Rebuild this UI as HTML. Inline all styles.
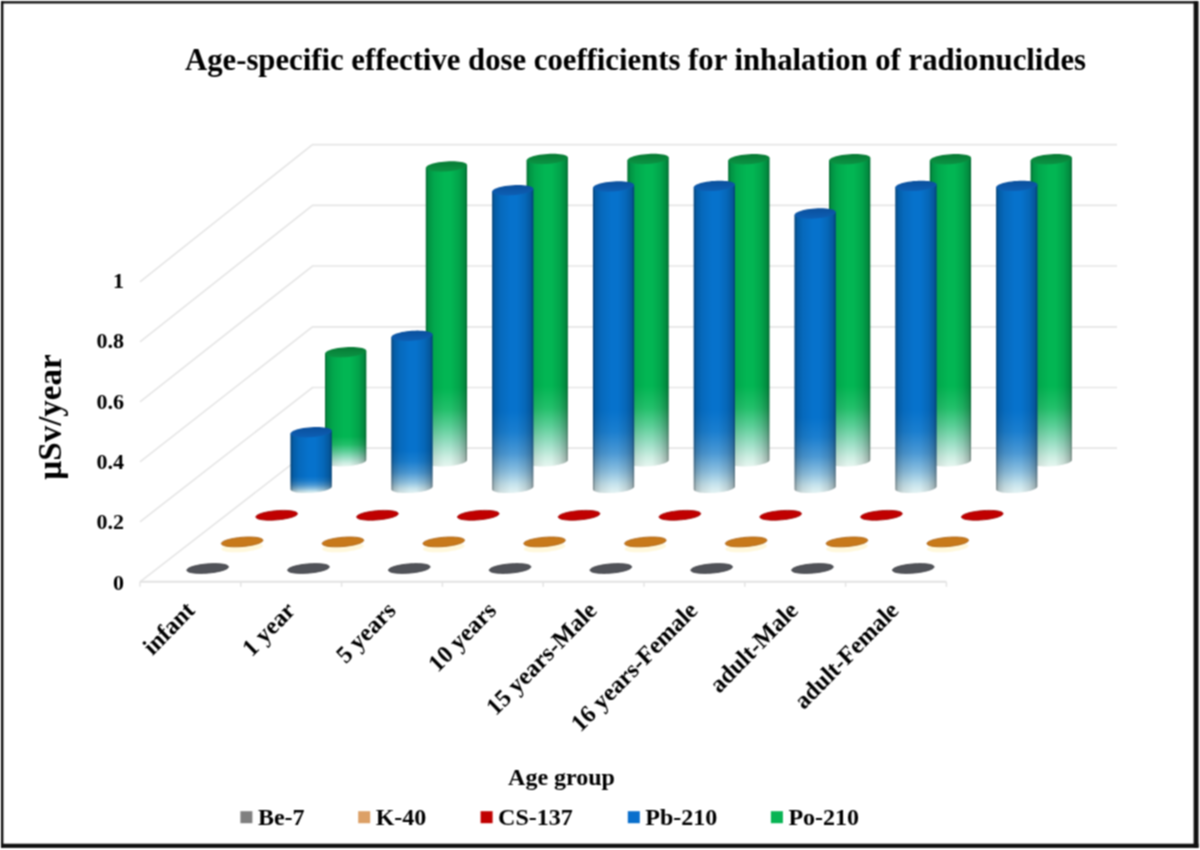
<!DOCTYPE html>
<html><head><meta charset="utf-8"><style>html,body{margin:0;padding:0;background:#fff;}svg{display:block;}</style></head>
<body>
<svg width="1200" height="850" viewBox="0 0 1200 850">
<defs>
<filter id="bl" x="0" y="0" width="1200" height="850" filterUnits="userSpaceOnUse" color-interpolation-filters="sRGB"><feConvolveMatrix order="3" kernelMatrix="1 2 1 2 4 2 1 2 1" divisor="16" edgeMode="duplicate" preserveAlpha="true"/></filter>
<linearGradient id="vb" x1="0" y1="0" x2="0" y2="1"><stop offset="0" stop-color="#0672cc"/><stop offset="0.73" stop-color="#0672cc"/><stop offset="0.8" stop-color="#1a7ecf"/><stop offset="0.87" stop-color="#4a98d4"/><stop offset="0.93" stop-color="#8cc0e0"/><stop offset="0.97" stop-color="#c4e2ec"/><stop offset="1" stop-color="#e4f3f3"/></linearGradient>
<linearGradient id="vg" x1="0" y1="0" x2="0" y2="1"><stop offset="0" stop-color="#02b653"/><stop offset="0.74" stop-color="#02b653"/><stop offset="0.81" stop-color="#22c06a"/><stop offset="0.87" stop-color="#5ccf98"/><stop offset="0.93" stop-color="#a0e0c8"/><stop offset="0.97" stop-color="#cdeee2"/><stop offset="1" stop-color="#e6f6f0"/></linearGradient>
<linearGradient id="cb" x1="0" y1="0" x2="0" y2="1"><stop offset="0" stop-color="#0a4f9c"/><stop offset="1" stop-color="#0d5fb4"/></linearGradient>
<linearGradient id="cg" x1="0" y1="0" x2="0" y2="1"><stop offset="0" stop-color="#077a34"/><stop offset="1" stop-color="#0b9444"/></linearGradient>
<linearGradient id="hs" x1="0" y1="0" x2="1" y2="0">
 <stop offset="0" stop-color="#000" stop-opacity="0.45"/>
 <stop offset="0.06" stop-color="#000" stop-opacity="0.2"/>
 <stop offset="0.2" stop-color="#000" stop-opacity="0.08"/>
 <stop offset="0.45" stop-color="#000" stop-opacity="0"/>
 <stop offset="0.6" stop-color="#000" stop-opacity="0"/>
 <stop offset="0.8" stop-color="#000" stop-opacity="0.1"/>
 <stop offset="0.94" stop-color="#000" stop-opacity="0.24"/>
 <stop offset="1" stop-color="#000" stop-opacity="0.45"/>
</linearGradient>
</defs>
<g filter="url(#bl)">
<rect width="1200" height="850" fill="#fff"/>
<rect x="1.0" y="1.2" width="2.4" height="846.6" fill="#111"/>
<rect x="1.2" y="1.2" width="1196.8" height="2.3" fill="#111"/>
<rect x="1193.6" y="1.2" width="4.9" height="846.6" fill="#111"/>
<rect x="1.2" y="843.7" width="1197.3" height="4.2" fill="#111"/>
<text x="185" y="69.5" font-family="Liberation Serif, serif" font-weight="bold" font-size="32.5" textLength="901" lengthAdjust="spacingAndGlyphs" fill="#000">Age-specific effective dose coefficients for inhalation of radionuclides</text>
<polyline points="140.0,581.8 312.5,448.2 1117,448.2" fill="none" stroke="#e6e6e6" stroke-width="1.7"/>
<polyline points="140.0,521.8 312.5,387.5 1117,387.5" fill="none" stroke="#e6e6e6" stroke-width="1.7"/>
<polyline points="140.0,461.8 312.5,326.8 1117,326.8" fill="none" stroke="#e6e6e6" stroke-width="1.7"/>
<polyline points="140.0,401.8 312.5,266.0 1117,266.0" fill="none" stroke="#e6e6e6" stroke-width="1.7"/>
<polyline points="140.0,341.8 312.5,205.3 1117,205.3" fill="none" stroke="#e6e6e6" stroke-width="1.7"/>
<polyline points="140.0,281.8 312.5,144.6 1117,144.6" fill="none" stroke="#e6e6e6" stroke-width="1.7"/>
<line x1="140.0" y1="581.8" x2="946.4" y2="581.8" stroke="#e2e2e2" stroke-width="2"/>
<line x1="140.0" y1="581.8" x2="140.0" y2="586.8" stroke="#e4e4e4" stroke-width="1.5"/>
<line x1="240.8" y1="581.8" x2="240.8" y2="586.8" stroke="#e4e4e4" stroke-width="1.5"/>
<line x1="341.6" y1="581.8" x2="341.6" y2="586.8" stroke="#e4e4e4" stroke-width="1.5"/>
<line x1="442.4" y1="581.8" x2="442.4" y2="586.8" stroke="#e4e4e4" stroke-width="1.5"/>
<line x1="543.2" y1="581.8" x2="543.2" y2="586.8" stroke="#e4e4e4" stroke-width="1.5"/>
<line x1="644.0" y1="581.8" x2="644.0" y2="586.8" stroke="#e4e4e4" stroke-width="1.5"/>
<line x1="744.8" y1="581.8" x2="744.8" y2="586.8" stroke="#e4e4e4" stroke-width="1.5"/>
<line x1="845.6" y1="581.8" x2="845.6" y2="586.8" stroke="#e4e4e4" stroke-width="1.5"/>
<line x1="946.4" y1="581.8" x2="946.4" y2="586.8" stroke="#e4e4e4" stroke-width="1.5"/>
<path d="M325.05,353.59 325.05,462.69 325.15,463.17 325.45,463.64 325.94,464.08 326.62,464.50 327.48,464.89 328.52,465.24 329.73,465.55 331.09,465.83 332.58,466.05 334.21,466.24 335.94,466.37 337.77,466.46 339.67,466.50 341.63,466.49 343.63,466.42 345.65,466.31 347.67,466.15 349.67,465.94 351.63,465.69 353.53,465.40 355.36,465.06 357.09,464.70 358.72,464.29 360.21,463.86 361.57,463.41 362.78,462.93 363.82,462.44 364.68,461.93 365.36,461.43 365.85,460.92 366.15,460.41 366.25,459.91 366.25,350.81Z" fill="url(#vg)"/>
<path d="M325.05,353.59 325.05,462.69 325.15,463.17 325.45,463.64 325.94,464.08 326.62,464.50 327.48,464.89 328.52,465.24 329.73,465.55 331.09,465.83 332.58,466.05 334.21,466.24 335.94,466.37 337.77,466.46 339.67,466.50 341.63,466.49 343.63,466.42 345.65,466.31 347.67,466.15 349.67,465.94 351.63,465.69 353.53,465.40 355.36,465.06 357.09,464.70 358.72,464.29 360.21,463.86 361.57,463.41 362.78,462.93 363.82,462.44 364.68,461.93 365.36,461.43 365.85,460.92 366.15,460.41 366.25,459.91 366.25,350.81Z" fill="url(#hs)"/>
<path d="M365.50,352.20 366.05,351.52 366.25,350.85 366.09,350.21 365.59,349.60 364.75,349.03 363.58,348.52 362.10,348.07 360.34,347.70 358.33,347.40 356.10,347.18 353.69,347.04 351.15,347.00 348.51,347.04 345.83,347.18 343.14,347.40 340.49,347.70 337.93,348.07 335.50,348.52 333.25,349.03 331.21,349.60 329.42,350.21 327.90,350.85 326.69,351.52 325.80,352.20 325.25,352.88 325.05,353.55 325.21,354.19 325.71,354.80 326.55,355.37 327.72,355.88 329.20,356.33 330.96,356.70 332.97,357.00 335.20,357.22 337.61,357.36 340.15,357.40 342.79,357.36 345.47,357.22 348.16,357.00 350.81,356.70 353.37,356.33 355.80,355.88 358.05,355.37 360.09,354.80 361.88,354.19 363.40,353.55 364.61,352.88 365.50,352.20Z" fill="url(#cg)"/>
<path d="M425.85,167.84 425.85,462.69 425.95,463.17 426.25,463.64 426.74,464.08 427.42,464.50 428.28,464.89 429.32,465.24 430.53,465.55 431.89,465.83 433.38,466.05 435.01,466.24 436.74,466.37 438.57,466.46 440.47,466.50 442.43,466.49 444.43,466.42 446.45,466.31 448.47,466.15 450.47,465.94 452.43,465.69 454.33,465.40 456.16,465.06 457.89,464.70 459.52,464.29 461.01,463.86 462.37,463.41 463.58,462.93 464.62,462.44 465.48,461.93 466.16,461.43 466.65,460.92 466.95,460.41 467.05,459.91 467.05,165.06Z" fill="url(#vg)"/>
<path d="M425.85,167.84 425.85,462.69 425.95,463.17 426.25,463.64 426.74,464.08 427.42,464.50 428.28,464.89 429.32,465.24 430.53,465.55 431.89,465.83 433.38,466.05 435.01,466.24 436.74,466.37 438.57,466.46 440.47,466.50 442.43,466.49 444.43,466.42 446.45,466.31 448.47,466.15 450.47,465.94 452.43,465.69 454.33,465.40 456.16,465.06 457.89,464.70 459.52,464.29 461.01,463.86 462.37,463.41 463.58,462.93 464.62,462.44 465.48,461.93 466.16,461.43 466.65,460.92 466.95,460.41 467.05,459.91 467.05,165.06Z" fill="url(#hs)"/>
<path d="M466.30,166.45 466.85,165.77 467.05,165.10 466.89,164.46 466.39,163.85 465.55,163.28 464.38,162.77 462.90,162.32 461.14,161.95 459.13,161.65 456.90,161.43 454.49,161.29 451.95,161.25 449.31,161.29 446.63,161.43 443.94,161.65 441.29,161.95 438.73,162.32 436.30,162.77 434.05,163.28 432.01,163.85 430.22,164.46 428.70,165.10 427.49,165.77 426.60,166.45 426.05,167.13 425.85,167.80 426.01,168.44 426.51,169.05 427.35,169.62 428.52,170.13 430.00,170.58 431.76,170.95 433.77,171.25 436.00,171.47 438.41,171.61 440.95,171.65 443.59,171.61 446.27,171.47 448.96,171.25 451.61,170.95 454.17,170.58 456.60,170.13 458.85,169.62 460.89,169.05 462.68,168.44 464.20,167.80 465.41,167.13 466.30,166.45Z" fill="url(#cg)"/>
<path d="M526.65,160.34 526.65,462.69 526.75,463.17 527.05,463.64 527.54,464.08 528.22,464.50 529.08,464.89 530.12,465.24 531.33,465.55 532.69,465.83 534.18,466.05 535.81,466.24 537.54,466.37 539.37,466.46 541.27,466.50 543.23,466.49 545.23,466.42 547.25,466.31 549.27,466.15 551.27,465.94 553.23,465.69 555.13,465.40 556.96,465.06 558.69,464.70 560.32,464.29 561.81,463.86 563.17,463.41 564.38,462.93 565.42,462.44 566.28,461.93 566.96,461.43 567.45,460.92 567.75,460.41 567.85,459.91 567.85,157.56Z" fill="url(#vg)"/>
<path d="M526.65,160.34 526.65,462.69 526.75,463.17 527.05,463.64 527.54,464.08 528.22,464.50 529.08,464.89 530.12,465.24 531.33,465.55 532.69,465.83 534.18,466.05 535.81,466.24 537.54,466.37 539.37,466.46 541.27,466.50 543.23,466.49 545.23,466.42 547.25,466.31 549.27,466.15 551.27,465.94 553.23,465.69 555.13,465.40 556.96,465.06 558.69,464.70 560.32,464.29 561.81,463.86 563.17,463.41 564.38,462.93 565.42,462.44 566.28,461.93 566.96,461.43 567.45,460.92 567.75,460.41 567.85,459.91 567.85,157.56Z" fill="url(#hs)"/>
<path d="M567.10,158.95 567.65,158.27 567.85,157.60 567.69,156.96 567.19,156.35 566.35,155.78 565.18,155.27 563.70,154.82 561.94,154.45 559.93,154.15 557.70,153.93 555.29,153.79 552.75,153.75 550.11,153.79 547.43,153.93 544.74,154.15 542.09,154.45 539.53,154.82 537.10,155.27 534.85,155.78 532.81,156.35 531.02,156.96 529.50,157.60 528.29,158.27 527.40,158.95 526.85,159.63 526.65,160.30 526.81,160.94 527.31,161.55 528.15,162.12 529.32,162.63 530.80,163.08 532.56,163.45 534.57,163.75 536.80,163.97 539.21,164.11 541.75,164.15 544.39,164.11 547.07,163.97 549.76,163.75 552.41,163.45 554.97,163.08 557.40,162.63 559.65,162.12 561.69,161.55 563.48,160.94 565.00,160.30 566.21,159.63 567.10,158.95Z" fill="url(#cg)"/>
<path d="M627.45,160.34 627.45,462.69 627.55,463.17 627.85,463.64 628.34,464.08 629.02,464.50 629.88,464.89 630.92,465.24 632.13,465.55 633.49,465.83 634.98,466.05 636.61,466.24 638.34,466.37 640.17,466.46 642.07,466.50 644.03,466.49 646.03,466.42 648.05,466.31 650.07,466.15 652.07,465.94 654.03,465.69 655.93,465.40 657.76,465.06 659.49,464.70 661.12,464.29 662.61,463.86 663.97,463.41 665.18,462.93 666.22,462.44 667.08,461.93 667.76,461.43 668.25,460.92 668.55,460.41 668.65,459.91 668.65,157.56Z" fill="url(#vg)"/>
<path d="M627.45,160.34 627.45,462.69 627.55,463.17 627.85,463.64 628.34,464.08 629.02,464.50 629.88,464.89 630.92,465.24 632.13,465.55 633.49,465.83 634.98,466.05 636.61,466.24 638.34,466.37 640.17,466.46 642.07,466.50 644.03,466.49 646.03,466.42 648.05,466.31 650.07,466.15 652.07,465.94 654.03,465.69 655.93,465.40 657.76,465.06 659.49,464.70 661.12,464.29 662.61,463.86 663.97,463.41 665.18,462.93 666.22,462.44 667.08,461.93 667.76,461.43 668.25,460.92 668.55,460.41 668.65,459.91 668.65,157.56Z" fill="url(#hs)"/>
<path d="M667.90,158.95 668.45,158.27 668.65,157.60 668.49,156.96 667.99,156.35 667.15,155.78 665.98,155.27 664.50,154.82 662.74,154.45 660.73,154.15 658.50,153.93 656.09,153.79 653.55,153.75 650.91,153.79 648.23,153.93 645.54,154.15 642.89,154.45 640.33,154.82 637.90,155.27 635.65,155.78 633.61,156.35 631.82,156.96 630.30,157.60 629.09,158.27 628.20,158.95 627.65,159.63 627.45,160.30 627.61,160.94 628.11,161.55 628.95,162.12 630.12,162.63 631.60,163.08 633.36,163.45 635.37,163.75 637.60,163.97 640.01,164.11 642.55,164.15 645.19,164.11 647.87,163.97 650.56,163.75 653.21,163.45 655.77,163.08 658.20,162.63 660.45,162.12 662.49,161.55 664.28,160.94 665.80,160.30 667.01,159.63 667.90,158.95Z" fill="url(#cg)"/>
<path d="M728.25,160.59 728.25,462.69 728.35,463.17 728.65,463.64 729.14,464.08 729.82,464.50 730.68,464.89 731.72,465.24 732.93,465.55 734.29,465.83 735.78,466.05 737.41,466.24 739.14,466.37 740.97,466.46 742.87,466.50 744.83,466.49 746.83,466.42 748.85,466.31 750.87,466.15 752.87,465.94 754.83,465.69 756.73,465.40 758.56,465.06 760.29,464.70 761.92,464.29 763.41,463.86 764.77,463.41 765.98,462.93 767.02,462.44 767.88,461.93 768.56,461.43 769.05,460.92 769.35,460.41 769.45,459.91 769.45,157.81Z" fill="url(#vg)"/>
<path d="M728.25,160.59 728.25,462.69 728.35,463.17 728.65,463.64 729.14,464.08 729.82,464.50 730.68,464.89 731.72,465.24 732.93,465.55 734.29,465.83 735.78,466.05 737.41,466.24 739.14,466.37 740.97,466.46 742.87,466.50 744.83,466.49 746.83,466.42 748.85,466.31 750.87,466.15 752.87,465.94 754.83,465.69 756.73,465.40 758.56,465.06 760.29,464.70 761.92,464.29 763.41,463.86 764.77,463.41 765.98,462.93 767.02,462.44 767.88,461.93 768.56,461.43 769.05,460.92 769.35,460.41 769.45,459.91 769.45,157.81Z" fill="url(#hs)"/>
<path d="M768.70,159.20 769.25,158.52 769.45,157.85 769.29,157.21 768.79,156.60 767.95,156.03 766.78,155.52 765.30,155.07 763.54,154.70 761.53,154.40 759.30,154.18 756.89,154.04 754.35,154.00 751.71,154.04 749.03,154.18 746.34,154.40 743.69,154.70 741.13,155.07 738.70,155.52 736.45,156.03 734.41,156.60 732.62,157.21 731.10,157.85 729.89,158.52 729.00,159.20 728.45,159.88 728.25,160.55 728.41,161.19 728.91,161.80 729.75,162.37 730.92,162.88 732.40,163.33 734.16,163.70 736.17,164.00 738.40,164.22 740.81,164.36 743.35,164.40 745.99,164.36 748.67,164.22 751.36,164.00 754.01,163.70 756.57,163.33 759.00,162.88 761.25,162.37 763.29,161.80 765.08,161.19 766.60,160.55 767.81,159.88 768.70,159.20Z" fill="url(#cg)"/>
<path d="M829.05,160.59 829.05,462.69 829.15,463.17 829.45,463.64 829.94,464.08 830.62,464.50 831.48,464.89 832.52,465.24 833.73,465.55 835.09,465.83 836.58,466.05 838.21,466.24 839.94,466.37 841.77,466.46 843.67,466.50 845.63,466.49 847.63,466.42 849.65,466.31 851.67,466.15 853.67,465.94 855.63,465.69 857.53,465.40 859.36,465.06 861.09,464.70 862.72,464.29 864.21,463.86 865.57,463.41 866.78,462.93 867.82,462.44 868.68,461.93 869.36,461.43 869.85,460.92 870.15,460.41 870.25,459.91 870.25,157.81Z" fill="url(#vg)"/>
<path d="M829.05,160.59 829.05,462.69 829.15,463.17 829.45,463.64 829.94,464.08 830.62,464.50 831.48,464.89 832.52,465.24 833.73,465.55 835.09,465.83 836.58,466.05 838.21,466.24 839.94,466.37 841.77,466.46 843.67,466.50 845.63,466.49 847.63,466.42 849.65,466.31 851.67,466.15 853.67,465.94 855.63,465.69 857.53,465.40 859.36,465.06 861.09,464.70 862.72,464.29 864.21,463.86 865.57,463.41 866.78,462.93 867.82,462.44 868.68,461.93 869.36,461.43 869.85,460.92 870.15,460.41 870.25,459.91 870.25,157.81Z" fill="url(#hs)"/>
<path d="M869.50,159.20 870.05,158.52 870.25,157.85 870.09,157.21 869.59,156.60 868.75,156.03 867.58,155.52 866.10,155.07 864.34,154.70 862.33,154.40 860.10,154.18 857.69,154.04 855.15,154.00 852.51,154.04 849.83,154.18 847.14,154.40 844.49,154.70 841.93,155.07 839.50,155.52 837.25,156.03 835.21,156.60 833.42,157.21 831.90,157.85 830.69,158.52 829.80,159.20 829.25,159.88 829.05,160.55 829.21,161.19 829.71,161.80 830.55,162.37 831.72,162.88 833.20,163.33 834.96,163.70 836.97,164.00 839.20,164.22 841.61,164.36 844.15,164.40 846.79,164.36 849.47,164.22 852.16,164.00 854.81,163.70 857.37,163.33 859.80,162.88 862.05,162.37 864.09,161.80 865.88,161.19 867.40,160.55 868.61,159.88 869.50,159.20Z" fill="url(#cg)"/>
<path d="M929.85,160.59 929.85,462.69 929.95,463.17 930.25,463.64 930.74,464.08 931.42,464.50 932.28,464.89 933.32,465.24 934.53,465.55 935.89,465.83 937.38,466.05 939.01,466.24 940.74,466.37 942.57,466.46 944.47,466.50 946.43,466.49 948.43,466.42 950.45,466.31 952.47,466.15 954.47,465.94 956.43,465.69 958.33,465.40 960.16,465.06 961.89,464.70 963.52,464.29 965.01,463.86 966.37,463.41 967.58,462.93 968.62,462.44 969.48,461.93 970.16,461.43 970.65,460.92 970.95,460.41 971.05,459.91 971.05,157.81Z" fill="url(#vg)"/>
<path d="M929.85,160.59 929.85,462.69 929.95,463.17 930.25,463.64 930.74,464.08 931.42,464.50 932.28,464.89 933.32,465.24 934.53,465.55 935.89,465.83 937.38,466.05 939.01,466.24 940.74,466.37 942.57,466.46 944.47,466.50 946.43,466.49 948.43,466.42 950.45,466.31 952.47,466.15 954.47,465.94 956.43,465.69 958.33,465.40 960.16,465.06 961.89,464.70 963.52,464.29 965.01,463.86 966.37,463.41 967.58,462.93 968.62,462.44 969.48,461.93 970.16,461.43 970.65,460.92 970.95,460.41 971.05,459.91 971.05,157.81Z" fill="url(#hs)"/>
<path d="M970.30,159.20 970.85,158.52 971.05,157.85 970.89,157.21 970.39,156.60 969.55,156.03 968.38,155.52 966.90,155.07 965.14,154.70 963.13,154.40 960.90,154.18 958.49,154.04 955.95,154.00 953.31,154.04 950.63,154.18 947.94,154.40 945.29,154.70 942.73,155.07 940.30,155.52 938.05,156.03 936.01,156.60 934.22,157.21 932.70,157.85 931.49,158.52 930.60,159.20 930.05,159.88 929.85,160.55 930.01,161.19 930.51,161.80 931.35,162.37 932.52,162.88 934.00,163.33 935.76,163.70 937.77,164.00 940.00,164.22 942.41,164.36 944.95,164.40 947.59,164.36 950.27,164.22 952.96,164.00 955.61,163.70 958.17,163.33 960.60,162.88 962.85,162.37 964.89,161.80 966.68,161.19 968.20,160.55 969.41,159.88 970.30,159.20Z" fill="url(#cg)"/>
<path d="M1030.65,160.59 1030.65,462.69 1030.75,463.17 1031.05,463.64 1031.54,464.08 1032.22,464.50 1033.08,464.89 1034.12,465.24 1035.33,465.55 1036.69,465.83 1038.18,466.05 1039.81,466.24 1041.54,466.37 1043.37,466.46 1045.27,466.50 1047.23,466.49 1049.23,466.42 1051.25,466.31 1053.27,466.15 1055.27,465.94 1057.23,465.69 1059.13,465.40 1060.96,465.06 1062.69,464.70 1064.32,464.29 1065.81,463.86 1067.17,463.41 1068.38,462.93 1069.42,462.44 1070.28,461.93 1070.96,461.43 1071.45,460.92 1071.75,460.41 1071.85,459.91 1071.85,157.81Z" fill="url(#vg)"/>
<path d="M1030.65,160.59 1030.65,462.69 1030.75,463.17 1031.05,463.64 1031.54,464.08 1032.22,464.50 1033.08,464.89 1034.12,465.24 1035.33,465.55 1036.69,465.83 1038.18,466.05 1039.81,466.24 1041.54,466.37 1043.37,466.46 1045.27,466.50 1047.23,466.49 1049.23,466.42 1051.25,466.31 1053.27,466.15 1055.27,465.94 1057.23,465.69 1059.13,465.40 1060.96,465.06 1062.69,464.70 1064.32,464.29 1065.81,463.86 1067.17,463.41 1068.38,462.93 1069.42,462.44 1070.28,461.93 1070.96,461.43 1071.45,460.92 1071.75,460.41 1071.85,459.91 1071.85,157.81Z" fill="url(#hs)"/>
<path d="M1071.10,159.20 1071.65,158.52 1071.85,157.85 1071.69,157.21 1071.19,156.60 1070.35,156.03 1069.18,155.52 1067.70,155.07 1065.94,154.70 1063.93,154.40 1061.70,154.18 1059.29,154.04 1056.75,154.00 1054.11,154.04 1051.43,154.18 1048.74,154.40 1046.09,154.70 1043.53,155.07 1041.10,155.52 1038.85,156.03 1036.81,156.60 1035.02,157.21 1033.50,157.85 1032.29,158.52 1031.40,159.20 1030.85,159.88 1030.65,160.55 1030.81,161.19 1031.31,161.80 1032.15,162.37 1033.32,162.88 1034.80,163.33 1036.56,163.70 1038.57,164.00 1040.80,164.22 1043.21,164.36 1045.75,164.40 1048.39,164.36 1051.07,164.22 1053.76,164.00 1056.41,163.70 1058.97,163.33 1061.40,162.88 1063.65,162.37 1065.69,161.80 1067.48,161.19 1069.00,160.55 1070.21,159.88 1071.10,159.20Z" fill="url(#cg)"/>
<path d="M290.55,433.59 290.55,489.29 290.65,489.77 290.95,490.24 291.44,490.68 292.12,491.10 292.98,491.49 294.02,491.84 295.23,492.15 296.59,492.43 298.08,492.65 299.71,492.84 301.44,492.97 303.27,493.06 305.17,493.10 307.13,493.09 309.13,493.02 311.15,492.91 313.17,492.75 315.17,492.54 317.13,492.29 319.03,492.00 320.86,491.66 322.59,491.30 324.22,490.89 325.71,490.46 327.07,490.01 328.28,489.53 329.32,489.04 330.18,488.53 330.86,488.03 331.35,487.52 331.65,487.01 331.75,486.51 331.75,430.81Z" fill="url(#vb)"/>
<path d="M290.55,433.59 290.55,489.29 290.65,489.77 290.95,490.24 291.44,490.68 292.12,491.10 292.98,491.49 294.02,491.84 295.23,492.15 296.59,492.43 298.08,492.65 299.71,492.84 301.44,492.97 303.27,493.06 305.17,493.10 307.13,493.09 309.13,493.02 311.15,492.91 313.17,492.75 315.17,492.54 317.13,492.29 319.03,492.00 320.86,491.66 322.59,491.30 324.22,490.89 325.71,490.46 327.07,490.01 328.28,489.53 329.32,489.04 330.18,488.53 330.86,488.03 331.35,487.52 331.65,487.01 331.75,486.51 331.75,430.81Z" fill="url(#hs)"/>
<path d="M331.00,432.20 331.55,431.52 331.75,430.85 331.59,430.21 331.09,429.60 330.25,429.03 329.08,428.52 327.60,428.07 325.84,427.70 323.83,427.40 321.60,427.18 319.19,427.04 316.65,427.00 314.01,427.04 311.33,427.18 308.64,427.40 305.99,427.70 303.43,428.07 301.00,428.52 298.75,429.03 296.71,429.60 294.92,430.21 293.40,430.85 292.19,431.52 291.30,432.20 290.75,432.88 290.55,433.55 290.71,434.19 291.21,434.80 292.05,435.37 293.22,435.88 294.70,436.33 296.46,436.70 298.47,437.00 300.70,437.22 303.11,437.36 305.65,437.40 308.29,437.36 310.97,437.22 313.66,437.00 316.31,436.70 318.87,436.33 321.30,435.88 323.55,435.37 325.59,434.80 327.38,434.19 328.90,433.55 330.11,432.88 331.00,432.20Z" fill="url(#cb)"/>
<path d="M391.35,337.19 391.35,489.29 391.45,489.77 391.75,490.24 392.24,490.68 392.92,491.10 393.78,491.49 394.82,491.84 396.03,492.15 397.39,492.43 398.88,492.65 400.51,492.84 402.24,492.97 404.07,493.06 405.97,493.10 407.93,493.09 409.93,493.02 411.95,492.91 413.97,492.75 415.97,492.54 417.93,492.29 419.83,492.00 421.66,491.66 423.39,491.30 425.02,490.89 426.51,490.46 427.87,490.01 429.08,489.53 430.12,489.04 430.98,488.53 431.66,488.03 432.15,487.52 432.45,487.01 432.55,486.51 432.55,334.41Z" fill="url(#vb)"/>
<path d="M391.35,337.19 391.35,489.29 391.45,489.77 391.75,490.24 392.24,490.68 392.92,491.10 393.78,491.49 394.82,491.84 396.03,492.15 397.39,492.43 398.88,492.65 400.51,492.84 402.24,492.97 404.07,493.06 405.97,493.10 407.93,493.09 409.93,493.02 411.95,492.91 413.97,492.75 415.97,492.54 417.93,492.29 419.83,492.00 421.66,491.66 423.39,491.30 425.02,490.89 426.51,490.46 427.87,490.01 429.08,489.53 430.12,489.04 430.98,488.53 431.66,488.03 432.15,487.52 432.45,487.01 432.55,486.51 432.55,334.41Z" fill="url(#hs)"/>
<path d="M431.80,335.80 432.35,335.12 432.55,334.45 432.39,333.81 431.89,333.20 431.05,332.63 429.88,332.12 428.40,331.67 426.64,331.30 424.63,331.00 422.40,330.78 419.99,330.64 417.45,330.60 414.81,330.64 412.13,330.78 409.44,331.00 406.79,331.30 404.23,331.67 401.80,332.12 399.55,332.63 397.51,333.20 395.72,333.81 394.20,334.45 392.99,335.12 392.10,335.80 391.55,336.48 391.35,337.15 391.51,337.79 392.01,338.40 392.85,338.97 394.02,339.48 395.50,339.93 397.26,340.30 399.27,340.60 401.50,340.82 403.91,340.96 406.45,341.00 409.09,340.96 411.77,340.82 414.46,340.60 417.11,340.30 419.67,339.93 422.10,339.48 424.35,338.97 426.39,338.40 428.18,337.79 429.70,337.15 430.91,336.48 431.80,335.80Z" fill="url(#cb)"/>
<path d="M492.15,191.59 492.15,489.29 492.25,489.77 492.55,490.24 493.04,490.68 493.72,491.10 494.58,491.49 495.62,491.84 496.83,492.15 498.19,492.43 499.68,492.65 501.31,492.84 503.04,492.97 504.87,493.06 506.77,493.10 508.73,493.09 510.73,493.02 512.75,492.91 514.77,492.75 516.77,492.54 518.73,492.29 520.63,492.00 522.46,491.66 524.19,491.30 525.82,490.89 527.31,490.46 528.67,490.01 529.88,489.53 530.92,489.04 531.78,488.53 532.46,488.03 532.95,487.52 533.25,487.01 533.35,486.51 533.35,188.81Z" fill="url(#vb)"/>
<path d="M492.15,191.59 492.15,489.29 492.25,489.77 492.55,490.24 493.04,490.68 493.72,491.10 494.58,491.49 495.62,491.84 496.83,492.15 498.19,492.43 499.68,492.65 501.31,492.84 503.04,492.97 504.87,493.06 506.77,493.10 508.73,493.09 510.73,493.02 512.75,492.91 514.77,492.75 516.77,492.54 518.73,492.29 520.63,492.00 522.46,491.66 524.19,491.30 525.82,490.89 527.31,490.46 528.67,490.01 529.88,489.53 530.92,489.04 531.78,488.53 532.46,488.03 532.95,487.52 533.25,487.01 533.35,486.51 533.35,188.81Z" fill="url(#hs)"/>
<path d="M532.60,190.20 533.15,189.52 533.35,188.85 533.19,188.21 532.69,187.60 531.85,187.03 530.68,186.52 529.20,186.07 527.44,185.70 525.43,185.40 523.20,185.18 520.79,185.04 518.25,185.00 515.61,185.04 512.93,185.18 510.24,185.40 507.59,185.70 505.03,186.07 502.60,186.52 500.35,187.03 498.31,187.60 496.52,188.21 495.00,188.85 493.79,189.52 492.90,190.20 492.35,190.88 492.15,191.55 492.31,192.19 492.81,192.80 493.65,193.37 494.82,193.88 496.30,194.33 498.06,194.70 500.07,195.00 502.30,195.22 504.71,195.36 507.25,195.40 509.89,195.36 512.57,195.22 515.26,195.00 517.91,194.70 520.47,194.33 522.90,193.88 525.15,193.37 527.19,192.80 528.98,192.19 530.50,191.55 531.71,190.88 532.60,190.20Z" fill="url(#cb)"/>
<path d="M592.95,187.84 592.95,489.29 593.05,489.77 593.35,490.24 593.84,490.68 594.52,491.10 595.38,491.49 596.42,491.84 597.63,492.15 598.99,492.43 600.48,492.65 602.11,492.84 603.84,492.97 605.67,493.06 607.57,493.10 609.53,493.09 611.53,493.02 613.55,492.91 615.57,492.75 617.57,492.54 619.53,492.29 621.43,492.00 623.26,491.66 624.99,491.30 626.62,490.89 628.11,490.46 629.47,490.01 630.68,489.53 631.72,489.04 632.58,488.53 633.26,488.03 633.75,487.52 634.05,487.01 634.15,486.51 634.15,185.06Z" fill="url(#vb)"/>
<path d="M592.95,187.84 592.95,489.29 593.05,489.77 593.35,490.24 593.84,490.68 594.52,491.10 595.38,491.49 596.42,491.84 597.63,492.15 598.99,492.43 600.48,492.65 602.11,492.84 603.84,492.97 605.67,493.06 607.57,493.10 609.53,493.09 611.53,493.02 613.55,492.91 615.57,492.75 617.57,492.54 619.53,492.29 621.43,492.00 623.26,491.66 624.99,491.30 626.62,490.89 628.11,490.46 629.47,490.01 630.68,489.53 631.72,489.04 632.58,488.53 633.26,488.03 633.75,487.52 634.05,487.01 634.15,486.51 634.15,185.06Z" fill="url(#hs)"/>
<path d="M633.40,186.45 633.95,185.77 634.15,185.10 633.99,184.46 633.49,183.85 632.65,183.28 631.48,182.77 630.00,182.32 628.24,181.95 626.23,181.65 624.00,181.43 621.59,181.29 619.05,181.25 616.41,181.29 613.73,181.43 611.04,181.65 608.39,181.95 605.83,182.32 603.40,182.77 601.15,183.28 599.11,183.85 597.32,184.46 595.80,185.10 594.59,185.77 593.70,186.45 593.15,187.13 592.95,187.80 593.11,188.44 593.61,189.05 594.45,189.62 595.62,190.13 597.10,190.58 598.86,190.95 600.87,191.25 603.10,191.47 605.51,191.61 608.05,191.65 610.69,191.61 613.37,191.47 616.06,191.25 618.71,190.95 621.27,190.58 623.70,190.13 625.95,189.62 627.99,189.05 629.78,188.44 631.30,187.80 632.51,187.13 633.40,186.45Z" fill="url(#cb)"/>
<path d="M693.75,187.29 693.75,489.29 693.85,489.77 694.15,490.24 694.64,490.68 695.32,491.10 696.18,491.49 697.22,491.84 698.43,492.15 699.79,492.43 701.28,492.65 702.91,492.84 704.64,492.97 706.47,493.06 708.37,493.10 710.33,493.09 712.33,493.02 714.35,492.91 716.37,492.75 718.37,492.54 720.33,492.29 722.23,492.00 724.06,491.66 725.79,491.30 727.42,490.89 728.91,490.46 730.27,490.01 731.48,489.53 732.52,489.04 733.38,488.53 734.06,488.03 734.55,487.52 734.85,487.01 734.95,486.51 734.95,184.51Z" fill="url(#vb)"/>
<path d="M693.75,187.29 693.75,489.29 693.85,489.77 694.15,490.24 694.64,490.68 695.32,491.10 696.18,491.49 697.22,491.84 698.43,492.15 699.79,492.43 701.28,492.65 702.91,492.84 704.64,492.97 706.47,493.06 708.37,493.10 710.33,493.09 712.33,493.02 714.35,492.91 716.37,492.75 718.37,492.54 720.33,492.29 722.23,492.00 724.06,491.66 725.79,491.30 727.42,490.89 728.91,490.46 730.27,490.01 731.48,489.53 732.52,489.04 733.38,488.53 734.06,488.03 734.55,487.52 734.85,487.01 734.95,486.51 734.95,184.51Z" fill="url(#hs)"/>
<path d="M734.20,185.90 734.75,185.22 734.95,184.55 734.79,183.91 734.29,183.30 733.45,182.73 732.28,182.22 730.80,181.77 729.04,181.40 727.03,181.10 724.80,180.88 722.39,180.74 719.85,180.70 717.21,180.74 714.53,180.88 711.84,181.10 709.19,181.40 706.63,181.77 704.20,182.22 701.95,182.73 699.91,183.30 698.12,183.91 696.60,184.55 695.39,185.22 694.50,185.90 693.95,186.58 693.75,187.25 693.91,187.89 694.41,188.50 695.25,189.07 696.42,189.58 697.90,190.03 699.66,190.40 701.67,190.70 703.90,190.92 706.31,191.06 708.85,191.10 711.49,191.06 714.17,190.92 716.86,190.70 719.51,190.40 722.07,190.03 724.50,189.58 726.75,189.07 728.79,188.50 730.58,187.89 732.10,187.25 733.31,186.58 734.20,185.90Z" fill="url(#cb)"/>
<path d="M794.55,214.89 794.55,489.29 794.65,489.77 794.95,490.24 795.44,490.68 796.12,491.10 796.98,491.49 798.02,491.84 799.23,492.15 800.59,492.43 802.08,492.65 803.71,492.84 805.44,492.97 807.27,493.06 809.17,493.10 811.13,493.09 813.13,493.02 815.15,492.91 817.17,492.75 819.17,492.54 821.13,492.29 823.03,492.00 824.86,491.66 826.59,491.30 828.22,490.89 829.71,490.46 831.07,490.01 832.28,489.53 833.32,489.04 834.18,488.53 834.86,488.03 835.35,487.52 835.65,487.01 835.75,486.51 835.75,212.11Z" fill="url(#vb)"/>
<path d="M794.55,214.89 794.55,489.29 794.65,489.77 794.95,490.24 795.44,490.68 796.12,491.10 796.98,491.49 798.02,491.84 799.23,492.15 800.59,492.43 802.08,492.65 803.71,492.84 805.44,492.97 807.27,493.06 809.17,493.10 811.13,493.09 813.13,493.02 815.15,492.91 817.17,492.75 819.17,492.54 821.13,492.29 823.03,492.00 824.86,491.66 826.59,491.30 828.22,490.89 829.71,490.46 831.07,490.01 832.28,489.53 833.32,489.04 834.18,488.53 834.86,488.03 835.35,487.52 835.65,487.01 835.75,486.51 835.75,212.11Z" fill="url(#hs)"/>
<path d="M835.00,213.50 835.55,212.82 835.75,212.15 835.59,211.51 835.09,210.90 834.25,210.33 833.08,209.82 831.60,209.37 829.84,209.00 827.83,208.70 825.60,208.48 823.19,208.34 820.65,208.30 818.01,208.34 815.33,208.48 812.64,208.70 809.99,209.00 807.43,209.37 805.00,209.82 802.75,210.33 800.71,210.90 798.92,211.51 797.40,212.15 796.19,212.82 795.30,213.50 794.75,214.18 794.55,214.85 794.71,215.49 795.21,216.10 796.05,216.67 797.22,217.18 798.70,217.63 800.46,218.00 802.47,218.30 804.70,218.52 807.11,218.66 809.65,218.70 812.29,218.66 814.97,218.52 817.66,218.30 820.31,218.00 822.87,217.63 825.30,217.18 827.55,216.67 829.59,216.10 831.38,215.49 832.90,214.85 834.11,214.18 835.00,213.50Z" fill="url(#cb)"/>
<path d="M895.35,187.29 895.35,489.29 895.45,489.77 895.75,490.24 896.24,490.68 896.92,491.10 897.78,491.49 898.82,491.84 900.03,492.15 901.39,492.43 902.88,492.65 904.51,492.84 906.24,492.97 908.07,493.06 909.97,493.10 911.93,493.09 913.93,493.02 915.95,492.91 917.97,492.75 919.97,492.54 921.93,492.29 923.83,492.00 925.66,491.66 927.39,491.30 929.02,490.89 930.51,490.46 931.87,490.01 933.08,489.53 934.12,489.04 934.98,488.53 935.66,488.03 936.15,487.52 936.45,487.01 936.55,486.51 936.55,184.51Z" fill="url(#vb)"/>
<path d="M895.35,187.29 895.35,489.29 895.45,489.77 895.75,490.24 896.24,490.68 896.92,491.10 897.78,491.49 898.82,491.84 900.03,492.15 901.39,492.43 902.88,492.65 904.51,492.84 906.24,492.97 908.07,493.06 909.97,493.10 911.93,493.09 913.93,493.02 915.95,492.91 917.97,492.75 919.97,492.54 921.93,492.29 923.83,492.00 925.66,491.66 927.39,491.30 929.02,490.89 930.51,490.46 931.87,490.01 933.08,489.53 934.12,489.04 934.98,488.53 935.66,488.03 936.15,487.52 936.45,487.01 936.55,486.51 936.55,184.51Z" fill="url(#hs)"/>
<path d="M935.80,185.90 936.35,185.22 936.55,184.55 936.39,183.91 935.89,183.30 935.05,182.73 933.88,182.22 932.40,181.77 930.64,181.40 928.63,181.10 926.40,180.88 923.99,180.74 921.45,180.70 918.81,180.74 916.13,180.88 913.44,181.10 910.79,181.40 908.23,181.77 905.80,182.22 903.55,182.73 901.51,183.30 899.72,183.91 898.20,184.55 896.99,185.22 896.10,185.90 895.55,186.58 895.35,187.25 895.51,187.89 896.01,188.50 896.85,189.07 898.02,189.58 899.50,190.03 901.26,190.40 903.27,190.70 905.50,190.92 907.91,191.06 910.45,191.10 913.09,191.06 915.77,190.92 918.46,190.70 921.11,190.40 923.67,190.03 926.10,189.58 928.35,189.07 930.39,188.50 932.18,187.89 933.70,187.25 934.91,186.58 935.80,185.90Z" fill="url(#cb)"/>
<path d="M996.15,187.29 996.15,489.29 996.25,489.77 996.55,490.24 997.04,490.68 997.72,491.10 998.58,491.49 999.62,491.84 1000.83,492.15 1002.19,492.43 1003.68,492.65 1005.31,492.84 1007.04,492.97 1008.87,493.06 1010.77,493.10 1012.73,493.09 1014.73,493.02 1016.75,492.91 1018.77,492.75 1020.77,492.54 1022.73,492.29 1024.63,492.00 1026.46,491.66 1028.19,491.30 1029.82,490.89 1031.31,490.46 1032.67,490.01 1033.88,489.53 1034.92,489.04 1035.78,488.53 1036.46,488.03 1036.95,487.52 1037.25,487.01 1037.35,486.51 1037.35,184.51Z" fill="url(#vb)"/>
<path d="M996.15,187.29 996.15,489.29 996.25,489.77 996.55,490.24 997.04,490.68 997.72,491.10 998.58,491.49 999.62,491.84 1000.83,492.15 1002.19,492.43 1003.68,492.65 1005.31,492.84 1007.04,492.97 1008.87,493.06 1010.77,493.10 1012.73,493.09 1014.73,493.02 1016.75,492.91 1018.77,492.75 1020.77,492.54 1022.73,492.29 1024.63,492.00 1026.46,491.66 1028.19,491.30 1029.82,490.89 1031.31,490.46 1032.67,490.01 1033.88,489.53 1034.92,489.04 1035.78,488.53 1036.46,488.03 1036.95,487.52 1037.25,487.01 1037.35,486.51 1037.35,184.51Z" fill="url(#hs)"/>
<path d="M1036.60,185.90 1037.15,185.22 1037.35,184.55 1037.19,183.91 1036.69,183.30 1035.85,182.73 1034.68,182.22 1033.20,181.77 1031.44,181.40 1029.43,181.10 1027.20,180.88 1024.79,180.74 1022.25,180.70 1019.61,180.74 1016.93,180.88 1014.24,181.10 1011.59,181.40 1009.03,181.77 1006.60,182.22 1004.35,182.73 1002.31,183.30 1000.52,183.91 999.00,184.55 997.79,185.22 996.90,185.90 996.35,186.58 996.15,187.25 996.31,187.89 996.81,188.50 997.65,189.07 998.82,189.58 1000.30,190.03 1002.06,190.40 1004.07,190.70 1006.30,190.92 1008.71,191.06 1011.25,191.10 1013.89,191.06 1016.57,190.92 1019.26,190.70 1021.91,190.40 1024.47,190.03 1026.90,189.58 1029.15,189.07 1031.19,188.50 1032.98,187.89 1034.50,187.25 1035.71,186.58 1036.60,185.90Z" fill="url(#cb)"/>
<path d="M296.25,515.30 297.00,514.66 297.39,514.03 297.44,513.42 297.12,512.85 296.46,512.32 295.46,511.84 294.14,511.41 292.51,511.06 290.62,510.77 288.48,510.57 286.15,510.44 283.65,510.40 281.03,510.44 278.34,510.57 275.62,510.77 272.91,511.06 270.27,511.41 267.74,511.84 265.36,512.32 263.18,512.85 261.22,513.42 259.53,514.03 258.13,514.66 257.05,515.30 256.30,515.94 255.91,516.57 255.86,517.18 256.18,517.75 256.84,518.28 257.84,518.76 259.16,519.19 260.79,519.54 262.68,519.83 264.82,520.03 267.15,520.16 269.65,520.20 272.27,520.16 274.96,520.03 277.68,519.83 280.39,519.54 283.03,519.19 285.56,518.76 287.94,518.28 290.12,517.75 292.08,517.18 293.77,516.57 295.17,515.94 296.25,515.30Z" fill="#c00000" stroke="#9a0000" stroke-width="0.8"/>
<path d="M397.05,515.30 397.80,514.66 398.19,514.03 398.24,513.42 397.92,512.85 397.26,512.32 396.26,511.84 394.94,511.41 393.31,511.06 391.42,510.77 389.28,510.57 386.95,510.44 384.45,510.40 381.83,510.44 379.14,510.57 376.42,510.77 373.71,511.06 371.07,511.41 368.54,511.84 366.16,512.32 363.98,512.85 362.02,513.42 360.33,514.03 358.93,514.66 357.85,515.30 357.10,515.94 356.71,516.57 356.66,517.18 356.98,517.75 357.64,518.28 358.64,518.76 359.96,519.19 361.59,519.54 363.48,519.83 365.62,520.03 367.95,520.16 370.45,520.20 373.07,520.16 375.76,520.03 378.48,519.83 381.19,519.54 383.83,519.19 386.36,518.76 388.74,518.28 390.92,517.75 392.88,517.18 394.57,516.57 395.97,515.94 397.05,515.30Z" fill="#c00000" stroke="#9a0000" stroke-width="0.8"/>
<path d="M497.85,515.30 498.60,514.66 498.99,514.03 499.04,513.42 498.72,512.85 498.06,512.32 497.06,511.84 495.74,511.41 494.11,511.06 492.22,510.77 490.08,510.57 487.75,510.44 485.25,510.40 482.63,510.44 479.94,510.57 477.22,510.77 474.51,511.06 471.87,511.41 469.34,511.84 466.96,512.32 464.78,512.85 462.82,513.42 461.13,514.03 459.73,514.66 458.65,515.30 457.90,515.94 457.51,516.57 457.46,517.18 457.78,517.75 458.44,518.28 459.44,518.76 460.76,519.19 462.39,519.54 464.28,519.83 466.42,520.03 468.75,520.16 471.25,520.20 473.87,520.16 476.56,520.03 479.28,519.83 481.99,519.54 484.63,519.19 487.16,518.76 489.54,518.28 491.72,517.75 493.68,517.18 495.37,516.57 496.77,515.94 497.85,515.30Z" fill="#c00000" stroke="#9a0000" stroke-width="0.8"/>
<path d="M598.65,515.30 599.40,514.66 599.79,514.03 599.84,513.42 599.52,512.85 598.86,512.32 597.86,511.84 596.54,511.41 594.91,511.06 593.02,510.77 590.88,510.57 588.55,510.44 586.05,510.40 583.43,510.44 580.74,510.57 578.02,510.77 575.31,511.06 572.67,511.41 570.14,511.84 567.76,512.32 565.58,512.85 563.62,513.42 561.93,514.03 560.53,514.66 559.45,515.30 558.70,515.94 558.31,516.57 558.26,517.18 558.58,517.75 559.24,518.28 560.24,518.76 561.56,519.19 563.19,519.54 565.08,519.83 567.22,520.03 569.55,520.16 572.05,520.20 574.67,520.16 577.36,520.03 580.08,519.83 582.79,519.54 585.43,519.19 587.96,518.76 590.34,518.28 592.52,517.75 594.48,517.18 596.17,516.57 597.57,515.94 598.65,515.30Z" fill="#c00000" stroke="#9a0000" stroke-width="0.8"/>
<path d="M699.45,515.30 700.20,514.66 700.59,514.03 700.64,513.42 700.32,512.85 699.66,512.32 698.66,511.84 697.34,511.41 695.71,511.06 693.82,510.77 691.68,510.57 689.35,510.44 686.85,510.40 684.23,510.44 681.54,510.57 678.82,510.77 676.11,511.06 673.47,511.41 670.94,511.84 668.56,512.32 666.38,512.85 664.42,513.42 662.73,514.03 661.33,514.66 660.25,515.30 659.50,515.94 659.11,516.57 659.06,517.18 659.38,517.75 660.04,518.28 661.04,518.76 662.36,519.19 663.99,519.54 665.88,519.83 668.02,520.03 670.35,520.16 672.85,520.20 675.47,520.16 678.16,520.03 680.88,519.83 683.59,519.54 686.23,519.19 688.76,518.76 691.14,518.28 693.32,517.75 695.28,517.18 696.97,516.57 698.37,515.94 699.45,515.30Z" fill="#c00000" stroke="#9a0000" stroke-width="0.8"/>
<path d="M800.25,515.30 801.00,514.66 801.39,514.03 801.44,513.42 801.12,512.85 800.46,512.32 799.46,511.84 798.14,511.41 796.51,511.06 794.62,510.77 792.48,510.57 790.15,510.44 787.65,510.40 785.03,510.44 782.34,510.57 779.62,510.77 776.91,511.06 774.27,511.41 771.74,511.84 769.36,512.32 767.18,512.85 765.22,513.42 763.53,514.03 762.13,514.66 761.05,515.30 760.30,515.94 759.91,516.57 759.86,517.18 760.18,517.75 760.84,518.28 761.84,518.76 763.16,519.19 764.79,519.54 766.68,519.83 768.82,520.03 771.15,520.16 773.65,520.20 776.27,520.16 778.96,520.03 781.68,519.83 784.39,519.54 787.03,519.19 789.56,518.76 791.94,518.28 794.12,517.75 796.08,517.18 797.77,516.57 799.17,515.94 800.25,515.30Z" fill="#c00000" stroke="#9a0000" stroke-width="0.8"/>
<path d="M901.05,515.30 901.80,514.66 902.19,514.03 902.24,513.42 901.92,512.85 901.26,512.32 900.26,511.84 898.94,511.41 897.31,511.06 895.42,510.77 893.28,510.57 890.95,510.44 888.45,510.40 885.83,510.44 883.14,510.57 880.42,510.77 877.71,511.06 875.07,511.41 872.54,511.84 870.16,512.32 867.98,512.85 866.02,513.42 864.33,514.03 862.93,514.66 861.85,515.30 861.10,515.94 860.71,516.57 860.66,517.18 860.98,517.75 861.64,518.28 862.64,518.76 863.96,519.19 865.59,519.54 867.48,519.83 869.62,520.03 871.95,520.16 874.45,520.20 877.07,520.16 879.76,520.03 882.48,519.83 885.19,519.54 887.83,519.19 890.36,518.76 892.74,518.28 894.92,517.75 896.88,517.18 898.57,516.57 899.97,515.94 901.05,515.30Z" fill="#c00000" stroke="#9a0000" stroke-width="0.8"/>
<path d="M1001.85,515.30 1002.60,514.66 1002.99,514.03 1003.04,513.42 1002.72,512.85 1002.06,512.32 1001.06,511.84 999.74,511.41 998.11,511.06 996.22,510.77 994.08,510.57 991.75,510.44 989.25,510.40 986.63,510.44 983.94,510.57 981.22,510.77 978.51,511.06 975.87,511.41 973.34,511.84 970.96,512.32 968.78,512.85 966.82,513.42 965.13,514.03 963.73,514.66 962.65,515.30 961.90,515.94 961.51,516.57 961.46,517.18 961.78,517.75 962.44,518.28 963.44,518.76 964.76,519.19 966.39,519.54 968.28,519.83 970.42,520.03 972.75,520.16 975.25,520.20 977.87,520.16 980.56,520.03 983.28,519.83 985.99,519.54 988.63,519.19 991.16,518.76 993.54,518.28 995.72,517.75 997.68,517.18 999.37,516.57 1000.77,515.94 1001.85,515.30Z" fill="#c00000" stroke="#9a0000" stroke-width="0.8"/>
<path d="M261.75,547.40 262.50,546.76 262.89,546.13 262.94,545.52 262.62,544.95 261.96,544.42 260.96,543.94 259.64,543.51 258.01,543.16 256.12,542.87 253.98,542.67 251.65,542.54 249.15,542.50 246.53,542.54 243.84,542.67 241.12,542.87 238.41,543.16 235.77,543.51 233.24,543.94 230.86,544.42 228.68,544.95 226.72,545.52 225.03,546.13 223.63,546.76 222.55,547.40 221.80,548.04 221.41,548.67 221.36,549.28 221.68,549.85 222.34,550.38 223.34,550.86 224.66,551.29 226.29,551.64 228.18,551.93 230.32,552.13 232.65,552.26 235.15,552.30 237.77,552.26 240.46,552.13 243.18,551.93 245.89,551.64 248.53,551.29 251.06,550.86 253.44,550.38 255.62,549.85 257.58,549.28 259.27,548.67 260.67,548.04 261.75,547.40Z" fill="#fff8dc"/>
<path d="M261.75,541.90 262.50,541.26 262.89,540.63 262.94,540.02 262.62,539.45 261.96,538.92 260.96,538.44 259.64,538.01 258.01,537.66 256.12,537.37 253.98,537.17 251.65,537.04 249.15,537.00 246.53,537.04 243.84,537.17 241.12,537.37 238.41,537.66 235.77,538.01 233.24,538.44 230.86,538.92 228.68,539.45 226.72,540.02 225.03,540.63 223.63,541.26 222.55,541.90 221.80,542.54 221.41,543.17 221.36,543.78 221.68,544.35 222.34,544.88 223.34,545.36 224.66,545.79 226.29,546.14 228.18,546.43 230.32,546.63 232.65,546.76 235.15,546.80 237.77,546.76 240.46,546.63 243.18,546.43 245.89,546.14 248.53,545.79 251.06,545.36 253.44,544.88 255.62,544.35 257.58,543.78 259.27,543.17 260.67,542.54 261.75,541.90Z" fill="#c8791a" stroke="#a85f10" stroke-width="0.8"/>
<path d="M362.55,547.40 363.30,546.76 363.69,546.13 363.74,545.52 363.42,544.95 362.76,544.42 361.76,543.94 360.44,543.51 358.81,543.16 356.92,542.87 354.78,542.67 352.45,542.54 349.95,542.50 347.33,542.54 344.64,542.67 341.92,542.87 339.21,543.16 336.57,543.51 334.04,543.94 331.66,544.42 329.48,544.95 327.52,545.52 325.83,546.13 324.43,546.76 323.35,547.40 322.60,548.04 322.21,548.67 322.16,549.28 322.48,549.85 323.14,550.38 324.14,550.86 325.46,551.29 327.09,551.64 328.98,551.93 331.12,552.13 333.45,552.26 335.95,552.30 338.57,552.26 341.26,552.13 343.98,551.93 346.69,551.64 349.33,551.29 351.86,550.86 354.24,550.38 356.42,549.85 358.38,549.28 360.07,548.67 361.47,548.04 362.55,547.40Z" fill="#fff8dc"/>
<path d="M362.55,541.90 363.30,541.26 363.69,540.63 363.74,540.02 363.42,539.45 362.76,538.92 361.76,538.44 360.44,538.01 358.81,537.66 356.92,537.37 354.78,537.17 352.45,537.04 349.95,537.00 347.33,537.04 344.64,537.17 341.92,537.37 339.21,537.66 336.57,538.01 334.04,538.44 331.66,538.92 329.48,539.45 327.52,540.02 325.83,540.63 324.43,541.26 323.35,541.90 322.60,542.54 322.21,543.17 322.16,543.78 322.48,544.35 323.14,544.88 324.14,545.36 325.46,545.79 327.09,546.14 328.98,546.43 331.12,546.63 333.45,546.76 335.95,546.80 338.57,546.76 341.26,546.63 343.98,546.43 346.69,546.14 349.33,545.79 351.86,545.36 354.24,544.88 356.42,544.35 358.38,543.78 360.07,543.17 361.47,542.54 362.55,541.90Z" fill="#c8791a" stroke="#a85f10" stroke-width="0.8"/>
<path d="M463.35,547.40 464.10,546.76 464.49,546.13 464.54,545.52 464.22,544.95 463.56,544.42 462.56,543.94 461.24,543.51 459.61,543.16 457.72,542.87 455.58,542.67 453.25,542.54 450.75,542.50 448.13,542.54 445.44,542.67 442.72,542.87 440.01,543.16 437.37,543.51 434.84,543.94 432.46,544.42 430.28,544.95 428.32,545.52 426.63,546.13 425.23,546.76 424.15,547.40 423.40,548.04 423.01,548.67 422.96,549.28 423.28,549.85 423.94,550.38 424.94,550.86 426.26,551.29 427.89,551.64 429.78,551.93 431.92,552.13 434.25,552.26 436.75,552.30 439.37,552.26 442.06,552.13 444.78,551.93 447.49,551.64 450.13,551.29 452.66,550.86 455.04,550.38 457.22,549.85 459.18,549.28 460.87,548.67 462.27,548.04 463.35,547.40Z" fill="#fff8dc"/>
<path d="M463.35,541.90 464.10,541.26 464.49,540.63 464.54,540.02 464.22,539.45 463.56,538.92 462.56,538.44 461.24,538.01 459.61,537.66 457.72,537.37 455.58,537.17 453.25,537.04 450.75,537.00 448.13,537.04 445.44,537.17 442.72,537.37 440.01,537.66 437.37,538.01 434.84,538.44 432.46,538.92 430.28,539.45 428.32,540.02 426.63,540.63 425.23,541.26 424.15,541.90 423.40,542.54 423.01,543.17 422.96,543.78 423.28,544.35 423.94,544.88 424.94,545.36 426.26,545.79 427.89,546.14 429.78,546.43 431.92,546.63 434.25,546.76 436.75,546.80 439.37,546.76 442.06,546.63 444.78,546.43 447.49,546.14 450.13,545.79 452.66,545.36 455.04,544.88 457.22,544.35 459.18,543.78 460.87,543.17 462.27,542.54 463.35,541.90Z" fill="#c8791a" stroke="#a85f10" stroke-width="0.8"/>
<path d="M564.15,547.40 564.90,546.76 565.29,546.13 565.34,545.52 565.02,544.95 564.36,544.42 563.36,543.94 562.04,543.51 560.41,543.16 558.52,542.87 556.38,542.67 554.05,542.54 551.55,542.50 548.93,542.54 546.24,542.67 543.52,542.87 540.81,543.16 538.17,543.51 535.64,543.94 533.26,544.42 531.08,544.95 529.12,545.52 527.43,546.13 526.03,546.76 524.95,547.40 524.20,548.04 523.81,548.67 523.76,549.28 524.08,549.85 524.74,550.38 525.74,550.86 527.06,551.29 528.69,551.64 530.58,551.93 532.72,552.13 535.05,552.26 537.55,552.30 540.17,552.26 542.86,552.13 545.58,551.93 548.29,551.64 550.93,551.29 553.46,550.86 555.84,550.38 558.02,549.85 559.98,549.28 561.67,548.67 563.07,548.04 564.15,547.40Z" fill="#fff8dc"/>
<path d="M564.15,541.90 564.90,541.26 565.29,540.63 565.34,540.02 565.02,539.45 564.36,538.92 563.36,538.44 562.04,538.01 560.41,537.66 558.52,537.37 556.38,537.17 554.05,537.04 551.55,537.00 548.93,537.04 546.24,537.17 543.52,537.37 540.81,537.66 538.17,538.01 535.64,538.44 533.26,538.92 531.08,539.45 529.12,540.02 527.43,540.63 526.03,541.26 524.95,541.90 524.20,542.54 523.81,543.17 523.76,543.78 524.08,544.35 524.74,544.88 525.74,545.36 527.06,545.79 528.69,546.14 530.58,546.43 532.72,546.63 535.05,546.76 537.55,546.80 540.17,546.76 542.86,546.63 545.58,546.43 548.29,546.14 550.93,545.79 553.46,545.36 555.84,544.88 558.02,544.35 559.98,543.78 561.67,543.17 563.07,542.54 564.15,541.90Z" fill="#c8791a" stroke="#a85f10" stroke-width="0.8"/>
<path d="M664.95,547.40 665.70,546.76 666.09,546.13 666.14,545.52 665.82,544.95 665.16,544.42 664.16,543.94 662.84,543.51 661.21,543.16 659.32,542.87 657.18,542.67 654.85,542.54 652.35,542.50 649.73,542.54 647.04,542.67 644.32,542.87 641.61,543.16 638.97,543.51 636.44,543.94 634.06,544.42 631.88,544.95 629.92,545.52 628.23,546.13 626.83,546.76 625.75,547.40 625.00,548.04 624.61,548.67 624.56,549.28 624.88,549.85 625.54,550.38 626.54,550.86 627.86,551.29 629.49,551.64 631.38,551.93 633.52,552.13 635.85,552.26 638.35,552.30 640.97,552.26 643.66,552.13 646.38,551.93 649.09,551.64 651.73,551.29 654.26,550.86 656.64,550.38 658.82,549.85 660.78,549.28 662.47,548.67 663.87,548.04 664.95,547.40Z" fill="#fff8dc"/>
<path d="M664.95,541.90 665.70,541.26 666.09,540.63 666.14,540.02 665.82,539.45 665.16,538.92 664.16,538.44 662.84,538.01 661.21,537.66 659.32,537.37 657.18,537.17 654.85,537.04 652.35,537.00 649.73,537.04 647.04,537.17 644.32,537.37 641.61,537.66 638.97,538.01 636.44,538.44 634.06,538.92 631.88,539.45 629.92,540.02 628.23,540.63 626.83,541.26 625.75,541.90 625.00,542.54 624.61,543.17 624.56,543.78 624.88,544.35 625.54,544.88 626.54,545.36 627.86,545.79 629.49,546.14 631.38,546.43 633.52,546.63 635.85,546.76 638.35,546.80 640.97,546.76 643.66,546.63 646.38,546.43 649.09,546.14 651.73,545.79 654.26,545.36 656.64,544.88 658.82,544.35 660.78,543.78 662.47,543.17 663.87,542.54 664.95,541.90Z" fill="#c8791a" stroke="#a85f10" stroke-width="0.8"/>
<path d="M765.75,547.40 766.50,546.76 766.89,546.13 766.94,545.52 766.62,544.95 765.96,544.42 764.96,543.94 763.64,543.51 762.01,543.16 760.12,542.87 757.98,542.67 755.65,542.54 753.15,542.50 750.53,542.54 747.84,542.67 745.12,542.87 742.41,543.16 739.77,543.51 737.24,543.94 734.86,544.42 732.68,544.95 730.72,545.52 729.03,546.13 727.63,546.76 726.55,547.40 725.80,548.04 725.41,548.67 725.36,549.28 725.68,549.85 726.34,550.38 727.34,550.86 728.66,551.29 730.29,551.64 732.18,551.93 734.32,552.13 736.65,552.26 739.15,552.30 741.77,552.26 744.46,552.13 747.18,551.93 749.89,551.64 752.53,551.29 755.06,550.86 757.44,550.38 759.62,549.85 761.58,549.28 763.27,548.67 764.67,548.04 765.75,547.40Z" fill="#fff8dc"/>
<path d="M765.75,541.90 766.50,541.26 766.89,540.63 766.94,540.02 766.62,539.45 765.96,538.92 764.96,538.44 763.64,538.01 762.01,537.66 760.12,537.37 757.98,537.17 755.65,537.04 753.15,537.00 750.53,537.04 747.84,537.17 745.12,537.37 742.41,537.66 739.77,538.01 737.24,538.44 734.86,538.92 732.68,539.45 730.72,540.02 729.03,540.63 727.63,541.26 726.55,541.90 725.80,542.54 725.41,543.17 725.36,543.78 725.68,544.35 726.34,544.88 727.34,545.36 728.66,545.79 730.29,546.14 732.18,546.43 734.32,546.63 736.65,546.76 739.15,546.80 741.77,546.76 744.46,546.63 747.18,546.43 749.89,546.14 752.53,545.79 755.06,545.36 757.44,544.88 759.62,544.35 761.58,543.78 763.27,543.17 764.67,542.54 765.75,541.90Z" fill="#c8791a" stroke="#a85f10" stroke-width="0.8"/>
<path d="M866.55,547.40 867.30,546.76 867.69,546.13 867.74,545.52 867.42,544.95 866.76,544.42 865.76,543.94 864.44,543.51 862.81,543.16 860.92,542.87 858.78,542.67 856.45,542.54 853.95,542.50 851.33,542.54 848.64,542.67 845.92,542.87 843.21,543.16 840.57,543.51 838.04,543.94 835.66,544.42 833.48,544.95 831.52,545.52 829.83,546.13 828.43,546.76 827.35,547.40 826.60,548.04 826.21,548.67 826.16,549.28 826.48,549.85 827.14,550.38 828.14,550.86 829.46,551.29 831.09,551.64 832.98,551.93 835.12,552.13 837.45,552.26 839.95,552.30 842.57,552.26 845.26,552.13 847.98,551.93 850.69,551.64 853.33,551.29 855.86,550.86 858.24,550.38 860.42,549.85 862.38,549.28 864.07,548.67 865.47,548.04 866.55,547.40Z" fill="#fff8dc"/>
<path d="M866.55,541.90 867.30,541.26 867.69,540.63 867.74,540.02 867.42,539.45 866.76,538.92 865.76,538.44 864.44,538.01 862.81,537.66 860.92,537.37 858.78,537.17 856.45,537.04 853.95,537.00 851.33,537.04 848.64,537.17 845.92,537.37 843.21,537.66 840.57,538.01 838.04,538.44 835.66,538.92 833.48,539.45 831.52,540.02 829.83,540.63 828.43,541.26 827.35,541.90 826.60,542.54 826.21,543.17 826.16,543.78 826.48,544.35 827.14,544.88 828.14,545.36 829.46,545.79 831.09,546.14 832.98,546.43 835.12,546.63 837.45,546.76 839.95,546.80 842.57,546.76 845.26,546.63 847.98,546.43 850.69,546.14 853.33,545.79 855.86,545.36 858.24,544.88 860.42,544.35 862.38,543.78 864.07,543.17 865.47,542.54 866.55,541.90Z" fill="#c8791a" stroke="#a85f10" stroke-width="0.8"/>
<path d="M967.35,547.40 968.10,546.76 968.49,546.13 968.54,545.52 968.22,544.95 967.56,544.42 966.56,543.94 965.24,543.51 963.61,543.16 961.72,542.87 959.58,542.67 957.25,542.54 954.75,542.50 952.13,542.54 949.44,542.67 946.72,542.87 944.01,543.16 941.37,543.51 938.84,543.94 936.46,544.42 934.28,544.95 932.32,545.52 930.63,546.13 929.23,546.76 928.15,547.40 927.40,548.04 927.01,548.67 926.96,549.28 927.28,549.85 927.94,550.38 928.94,550.86 930.26,551.29 931.89,551.64 933.78,551.93 935.92,552.13 938.25,552.26 940.75,552.30 943.37,552.26 946.06,552.13 948.78,551.93 951.49,551.64 954.13,551.29 956.66,550.86 959.04,550.38 961.22,549.85 963.18,549.28 964.87,548.67 966.27,548.04 967.35,547.40Z" fill="#fff8dc"/>
<path d="M967.35,541.90 968.10,541.26 968.49,540.63 968.54,540.02 968.22,539.45 967.56,538.92 966.56,538.44 965.24,538.01 963.61,537.66 961.72,537.37 959.58,537.17 957.25,537.04 954.75,537.00 952.13,537.04 949.44,537.17 946.72,537.37 944.01,537.66 941.37,538.01 938.84,538.44 936.46,538.92 934.28,539.45 932.32,540.02 930.63,540.63 929.23,541.26 928.15,541.90 927.40,542.54 927.01,543.17 926.96,543.78 927.28,544.35 927.94,544.88 928.94,545.36 930.26,545.79 931.89,546.14 933.78,546.43 935.92,546.63 938.25,546.76 940.75,546.80 943.37,546.76 946.06,546.63 948.78,546.43 951.49,546.14 954.13,545.79 956.66,545.36 959.04,544.88 961.22,544.35 963.18,543.78 964.87,543.17 966.27,542.54 967.35,541.90Z" fill="#c8791a" stroke="#a85f10" stroke-width="0.8"/>
<path d="M227.25,568.50 228.00,567.86 228.39,567.23 228.44,566.62 228.12,566.05 227.46,565.52 226.46,565.04 225.14,564.61 223.51,564.26 221.62,563.97 219.48,563.77 217.15,563.64 214.65,563.60 212.03,563.64 209.34,563.77 206.62,563.97 203.91,564.26 201.27,564.61 198.74,565.04 196.36,565.52 194.18,566.05 192.22,566.62 190.53,567.23 189.13,567.86 188.05,568.50 187.30,569.14 186.91,569.77 186.86,570.38 187.18,570.95 187.84,571.48 188.84,571.96 190.16,572.39 191.79,572.74 193.68,573.03 195.82,573.23 198.15,573.36 200.65,573.40 203.27,573.36 205.96,573.23 208.68,573.03 211.39,572.74 214.03,572.39 216.56,571.96 218.94,571.48 221.12,570.95 223.08,570.38 224.77,569.77 226.17,569.14 227.25,568.50Z" fill="#515359" stroke="#3a3b40" stroke-width="0.8"/>
<path d="M328.05,568.50 328.80,567.86 329.19,567.23 329.24,566.62 328.92,566.05 328.26,565.52 327.26,565.04 325.94,564.61 324.31,564.26 322.42,563.97 320.28,563.77 317.95,563.64 315.45,563.60 312.83,563.64 310.14,563.77 307.42,563.97 304.71,564.26 302.07,564.61 299.54,565.04 297.16,565.52 294.98,566.05 293.02,566.62 291.33,567.23 289.93,567.86 288.85,568.50 288.10,569.14 287.71,569.77 287.66,570.38 287.98,570.95 288.64,571.48 289.64,571.96 290.96,572.39 292.59,572.74 294.48,573.03 296.62,573.23 298.95,573.36 301.45,573.40 304.07,573.36 306.76,573.23 309.48,573.03 312.19,572.74 314.83,572.39 317.36,571.96 319.74,571.48 321.92,570.95 323.88,570.38 325.57,569.77 326.97,569.14 328.05,568.50Z" fill="#515359" stroke="#3a3b40" stroke-width="0.8"/>
<path d="M428.85,568.50 429.60,567.86 429.99,567.23 430.04,566.62 429.72,566.05 429.06,565.52 428.06,565.04 426.74,564.61 425.11,564.26 423.22,563.97 421.08,563.77 418.75,563.64 416.25,563.60 413.63,563.64 410.94,563.77 408.22,563.97 405.51,564.26 402.87,564.61 400.34,565.04 397.96,565.52 395.78,566.05 393.82,566.62 392.13,567.23 390.73,567.86 389.65,568.50 388.90,569.14 388.51,569.77 388.46,570.38 388.78,570.95 389.44,571.48 390.44,571.96 391.76,572.39 393.39,572.74 395.28,573.03 397.42,573.23 399.75,573.36 402.25,573.40 404.87,573.36 407.56,573.23 410.28,573.03 412.99,572.74 415.63,572.39 418.16,571.96 420.54,571.48 422.72,570.95 424.68,570.38 426.37,569.77 427.77,569.14 428.85,568.50Z" fill="#515359" stroke="#3a3b40" stroke-width="0.8"/>
<path d="M529.65,568.50 530.40,567.86 530.79,567.23 530.84,566.62 530.52,566.05 529.86,565.52 528.86,565.04 527.54,564.61 525.91,564.26 524.02,563.97 521.88,563.77 519.55,563.64 517.05,563.60 514.43,563.64 511.74,563.77 509.02,563.97 506.31,564.26 503.67,564.61 501.14,565.04 498.76,565.52 496.58,566.05 494.62,566.62 492.93,567.23 491.53,567.86 490.45,568.50 489.70,569.14 489.31,569.77 489.26,570.38 489.58,570.95 490.24,571.48 491.24,571.96 492.56,572.39 494.19,572.74 496.08,573.03 498.22,573.23 500.55,573.36 503.05,573.40 505.67,573.36 508.36,573.23 511.08,573.03 513.79,572.74 516.43,572.39 518.96,571.96 521.34,571.48 523.52,570.95 525.48,570.38 527.17,569.77 528.57,569.14 529.65,568.50Z" fill="#515359" stroke="#3a3b40" stroke-width="0.8"/>
<path d="M630.45,568.50 631.20,567.86 631.59,567.23 631.64,566.62 631.32,566.05 630.66,565.52 629.66,565.04 628.34,564.61 626.71,564.26 624.82,563.97 622.68,563.77 620.35,563.64 617.85,563.60 615.23,563.64 612.54,563.77 609.82,563.97 607.11,564.26 604.47,564.61 601.94,565.04 599.56,565.52 597.38,566.05 595.42,566.62 593.73,567.23 592.33,567.86 591.25,568.50 590.50,569.14 590.11,569.77 590.06,570.38 590.38,570.95 591.04,571.48 592.04,571.96 593.36,572.39 594.99,572.74 596.88,573.03 599.02,573.23 601.35,573.36 603.85,573.40 606.47,573.36 609.16,573.23 611.88,573.03 614.59,572.74 617.23,572.39 619.76,571.96 622.14,571.48 624.32,570.95 626.28,570.38 627.97,569.77 629.37,569.14 630.45,568.50Z" fill="#515359" stroke="#3a3b40" stroke-width="0.8"/>
<path d="M731.25,568.50 732.00,567.86 732.39,567.23 732.44,566.62 732.12,566.05 731.46,565.52 730.46,565.04 729.14,564.61 727.51,564.26 725.62,563.97 723.48,563.77 721.15,563.64 718.65,563.60 716.03,563.64 713.34,563.77 710.62,563.97 707.91,564.26 705.27,564.61 702.74,565.04 700.36,565.52 698.18,566.05 696.22,566.62 694.53,567.23 693.13,567.86 692.05,568.50 691.30,569.14 690.91,569.77 690.86,570.38 691.18,570.95 691.84,571.48 692.84,571.96 694.16,572.39 695.79,572.74 697.68,573.03 699.82,573.23 702.15,573.36 704.65,573.40 707.27,573.36 709.96,573.23 712.68,573.03 715.39,572.74 718.03,572.39 720.56,571.96 722.94,571.48 725.12,570.95 727.08,570.38 728.77,569.77 730.17,569.14 731.25,568.50Z" fill="#515359" stroke="#3a3b40" stroke-width="0.8"/>
<path d="M832.05,568.50 832.80,567.86 833.19,567.23 833.24,566.62 832.92,566.05 832.26,565.52 831.26,565.04 829.94,564.61 828.31,564.26 826.42,563.97 824.28,563.77 821.95,563.64 819.45,563.60 816.83,563.64 814.14,563.77 811.42,563.97 808.71,564.26 806.07,564.61 803.54,565.04 801.16,565.52 798.98,566.05 797.02,566.62 795.33,567.23 793.93,567.86 792.85,568.50 792.10,569.14 791.71,569.77 791.66,570.38 791.98,570.95 792.64,571.48 793.64,571.96 794.96,572.39 796.59,572.74 798.48,573.03 800.62,573.23 802.95,573.36 805.45,573.40 808.07,573.36 810.76,573.23 813.48,573.03 816.19,572.74 818.83,572.39 821.36,571.96 823.74,571.48 825.92,570.95 827.88,570.38 829.57,569.77 830.97,569.14 832.05,568.50Z" fill="#515359" stroke="#3a3b40" stroke-width="0.8"/>
<path d="M932.85,568.50 933.60,567.86 933.99,567.23 934.04,566.62 933.72,566.05 933.06,565.52 932.06,565.04 930.74,564.61 929.11,564.26 927.22,563.97 925.08,563.77 922.75,563.64 920.25,563.60 917.63,563.64 914.94,563.77 912.22,563.97 909.51,564.26 906.87,564.61 904.34,565.04 901.96,565.52 899.78,566.05 897.82,566.62 896.13,567.23 894.73,567.86 893.65,568.50 892.90,569.14 892.51,569.77 892.46,570.38 892.78,570.95 893.44,571.48 894.44,571.96 895.76,572.39 897.39,572.74 899.28,573.03 901.42,573.23 903.75,573.36 906.25,573.40 908.87,573.36 911.56,573.23 914.28,573.03 916.99,572.74 919.63,572.39 922.16,571.96 924.54,571.48 926.72,570.95 928.68,570.38 930.37,569.77 931.77,569.14 932.85,568.50Z" fill="#515359" stroke="#3a3b40" stroke-width="0.8"/>
<text x="124.1" y="589.8" font-family="Liberation Serif, serif" font-weight="bold" font-size="22" text-anchor="end" fill="#000">0</text>
<text x="124.1" y="529.4" font-family="Liberation Serif, serif" font-weight="bold" font-size="22" text-anchor="end" fill="#000">0.2</text>
<text x="124.1" y="469.0" font-family="Liberation Serif, serif" font-weight="bold" font-size="22" text-anchor="end" fill="#000">0.4</text>
<text x="124.1" y="408.6" font-family="Liberation Serif, serif" font-weight="bold" font-size="22" text-anchor="end" fill="#000">0.6</text>
<text x="124.1" y="348.2" font-family="Liberation Serif, serif" font-weight="bold" font-size="22" text-anchor="end" fill="#000">0.8</text>
<text x="124.1" y="287.8" font-family="Liberation Serif, serif" font-weight="bold" font-size="22" text-anchor="end" fill="#000">1</text>
<text transform="translate(61.2,417) rotate(-90)" font-family="Liberation Serif, serif" font-weight="bold" font-size="33" text-anchor="middle" fill="#000">µSv/year</text>
<text transform="translate(195.8,611.8) scale(1,1.025) rotate(-45)" font-family="Liberation Serif, serif" font-weight="bold" font-size="24" text-anchor="end" fill="#000">infant</text>
<text transform="translate(296.4,611.8) scale(1,1.025) rotate(-45)" font-family="Liberation Serif, serif" font-weight="bold" font-size="24" text-anchor="end" fill="#000">1 year</text>
<text transform="translate(397.0,611.8) scale(1,1.025) rotate(-45)" font-family="Liberation Serif, serif" font-weight="bold" font-size="24" text-anchor="end" fill="#000">5 years</text>
<text transform="translate(497.5,611.8) scale(1,1.025) rotate(-45)" font-family="Liberation Serif, serif" font-weight="bold" font-size="24" text-anchor="end" fill="#000">10 years</text>
<text transform="translate(598.1,611.8) scale(1,1.025) rotate(-45)" font-family="Liberation Serif, serif" font-weight="bold" font-size="24" text-anchor="end" fill="#000">15 years-Male</text>
<text transform="translate(698.7,611.8) scale(1,1.025) rotate(-45)" font-family="Liberation Serif, serif" font-weight="bold" font-size="24" text-anchor="end" fill="#000">16 years-Female</text>
<text transform="translate(799.3,611.8) scale(1,1.025) rotate(-45)" font-family="Liberation Serif, serif" font-weight="bold" font-size="24" text-anchor="end" fill="#000">adult-Male</text>
<text transform="translate(899.9,611.8) scale(1,1.025) rotate(-45)" font-family="Liberation Serif, serif" font-weight="bold" font-size="24" text-anchor="end" fill="#000">adult-Female</text>
<text x="561.5" y="785" font-family="Liberation Serif, serif" font-weight="bold" font-size="24" text-anchor="middle" fill="#000">Age group</text>
<rect x="240.4" y="811.2" width="12" height="12" fill="#7f7f7f"/>
<text x="257.9" y="824.6" font-family="Liberation Serif, serif" font-weight="bold" font-size="24" fill="#000">Be-7</text>
<rect x="358.2" y="811.2" width="12" height="12" fill="#dca066"/>
<text x="375.7" y="824.6" font-family="Liberation Serif, serif" font-weight="bold" font-size="24" fill="#000">K-40</text>
<rect x="480.6" y="811.2" width="12" height="12" fill="#c00000"/>
<text x="498.1" y="824.6" font-family="Liberation Serif, serif" font-weight="bold" font-size="24" fill="#000">CS-137</text>
<rect x="627.8" y="811.2" width="12" height="12" fill="#0a6fcc"/>
<text x="645.3" y="824.6" font-family="Liberation Serif, serif" font-weight="bold" font-size="24" fill="#000">Pb-210</text>
<rect x="770.9" y="811.2" width="12" height="12" fill="#08b454"/>
<text x="788.4" y="824.6" font-family="Liberation Serif, serif" font-weight="bold" font-size="24" fill="#000">Po-210</text>
</g>
</svg>
</body></html>
